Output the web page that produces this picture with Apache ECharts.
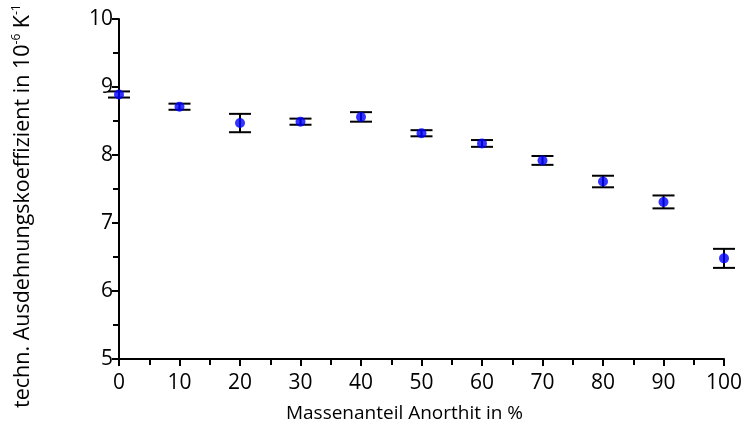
<!DOCTYPE html>
<html><head><meta charset="utf-8">
<script src="https://cdn.jsdelivr.net/npm/echarts@6/dist/echarts.min.js"></script>
<style>html,body{margin:0;padding:0;background:#fff}#c{width:749px;height:430px}</style>
</head><body><div id="c"></div>
<script>
var xValues = [0, 10, 20, 30, 40, 50, 60, 70, 80, 90, 100];
var yValues = [8.89, 8.71, 8.47, 8.49, 8.56, 8.32, 8.17, 7.92, 7.61, 7.31, 6.48];
var yErrors = [0.045, 0.045, 0.135, 0.045, 0.07, 0.045, 0.05, 0.065, 0.085, 0.095, 0.14];
var xTitle = 'Massenanteil Anorthit in %';

var chart = echarts.init(document.getElementById('c'));
var pts = xValues.map(function (x, i) { return [x, yValues[i]]; });
var errs = xValues.map(function (x, i) { return [x, yValues[i] - yErrors[i], yValues[i] + yErrors[i]]; });
var FONT = 'Open Sans';
chart.setOption({
  animation: false,
  grid: { left: 119, right: 25, top: 19, bottom: 71, containLabel: false },
  xAxis: {
    type: 'value', min: 0, max: 100, interval: 10,
    axisLine: { lineStyle: { color: '#000', width: 2 } },
    axisTick: { show: true, length: 7, lineStyle: { color: '#000', width: 2 } },
    minorTick: { show: true, splitNumber: 2, length: 6, lineStyle: { color: '#000', width: 2 } },
    axisLabel: { color: '#000', fontSize: 21, fontFamily: FONT, margin: 14 },
    splitLine: { show: false },
    name: xTitle, nameLocation: 'middle', nameGap: 45,
    nameTextStyle: { color: '#000', fontSize: 19, fontFamily: FONT, padding: [0, 34, 0, 0] }
  },
  yAxis: {
    type: 'value', min: 5, max: 10, interval: 1,
    axisLine: { show: true, lineStyle: { color: '#000', width: 2 } },
    axisTick: { show: true, length: 7, lineStyle: { color: '#000', width: 2 } },
    minorTick: { show: true, splitNumber: 2, length: 6, lineStyle: { color: '#000', width: 2 } },
    axisLabel: { color: '#000', fontSize: 21, fontFamily: FONT, margin: 6 },
    splitLine: { show: false }
  },
  graphic: [{
    type: 'text', rotation: Math.PI / 2,
    x: 11, y: 408,
    style: {
      text: 'techn. Ausdehnungskoeffizient in 10{s|-6} K{s|-1}',
      fontSize: 21.5, fontFamily: FONT, fill: '#000',
      rich: { s: { fontSize: 12, fontFamily: FONT, verticalAlign: 'top', padding: [0, 0, 11, 0] } }
    }
  }],
  series: [{
    type: 'custom', clip: false, z: 3,
    renderItem: function (params, api) {
      var x = api.value(0);
      var lo = api.coord([x, api.value(1)]);
      var hi = api.coord([x, api.value(2)]);
      var w = 11;
      var st = { stroke: '#000', lineWidth: 2 };
      return { type: 'group', children: [
        { type: 'line', shape: { x1: lo[0], y1: lo[1], x2: hi[0], y2: hi[1] }, style: st },
        { type: 'line', shape: { x1: lo[0] - w, y1: lo[1], x2: lo[0] + w, y2: lo[1] }, style: st },
        { type: 'line', shape: { x1: hi[0] - w, y1: hi[1], x2: hi[0] + w, y2: hi[1] }, style: st }
      ]};
    },
    data: errs
  }, {
    type: 'scatter', z: 4, symbol: 'circle', symbolSize: 10, clip: false,
    itemStyle: { color: '#0000FF' }, data: pts
  }]
});
</script></body></html>
